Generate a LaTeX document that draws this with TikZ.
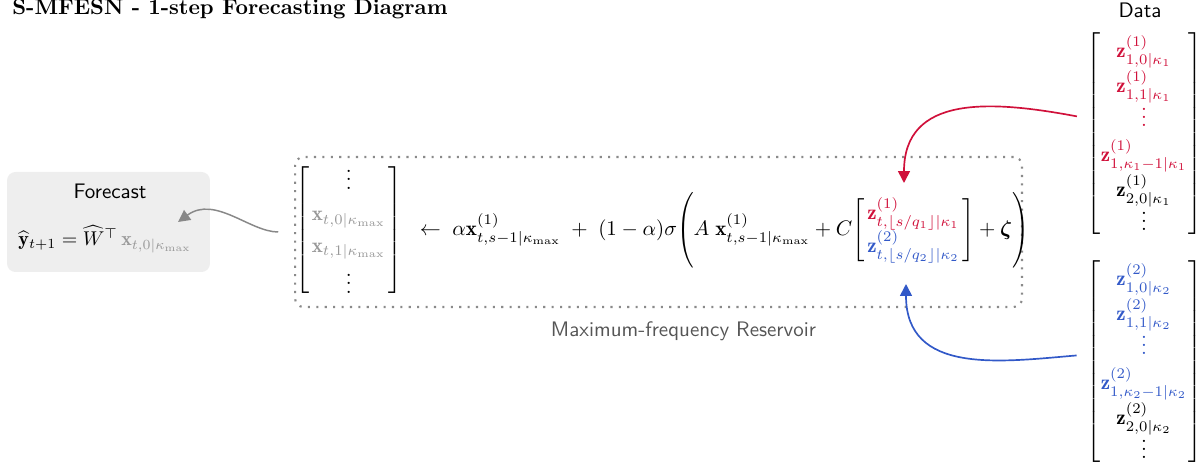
\documentclass[tikz,border=0pt]{standalone}
\usepackage{amsmath,amssymb}
\usepackage{graphicx}
\usepackage{fontspec}
\usetikzlibrary{arrows.meta,matrix}
\definecolor{zred}{HTML}{D0103A}
\definecolor{zblue}{HTML}{3259C8}
\definecolor{resgray}{HTML}{8A8A8A}
\definecolor{fcfill}{HTML}{EEEEEE}
\definecolor{xgray}{HTML}{999999}
\definecolor{lblgray}{HTML}{555555}
\definecolor{arrgray}{HTML}{888888}
\newcommand{\myLpar}{\mathopen{\vcenter{\hbox{\scalebox{1}[1.2]{$\Biggl($}}}}}
\newcommand{\myRpar}{\mathclose{\vcenter{\hbox{\scalebox{1}[1.2]{$\Biggr)$}}}}}
\newcommand{\fixLbr}[1]{\mathopen{\left[\vcenter{\hbox{\rule{0pt}{#1}}}\right.}}
\newcommand{\fixRbr}[1]{\mathclose{\left.\vcenter{\hbox{\rule{0pt}{#1}}}\right]}}
\begin{document}
\begin{tikzpicture}[x=0.476pt,y=-0.476pt,
  fcbox/.style={fill=fcfill, rounded corners=4pt, minimum width=96.6pt, minimum height=47.6pt, inner sep=0pt},
  resbox/.style={draw=resgray, line width=1pt, dash pattern=on 1pt off 3pt, rounded corners=4pt, minimum width=346pt, minimum height=71.4pt, inner sep=0pt},
  lbl/.style={font=\sffamily, inner sep=0pt},
  datamat/.style={matrix of math nodes, anchor=north, inner ysep=1pt, inner xsep=-1.5pt,
     nodes={inner sep=0.5pt}, row sep={16.5pt,between origins},
     left delimiter={[}, right delimiter={]}},
  feed/.style={-{Triangle[width=5.7pt,length=5.7pt]}, line width=0.8pt},
  outarrow/.style={-{Triangle[width=5.7pt,length=5.7pt]}, line width=0.7pt, draw=arrgray}]
\useasboundingbox (0,0) rectangle (1203,463);

% title
\node[anchor=base west, inner sep=0pt, font=\fontsize{10.3}{12}\selectfont\bfseries] (title) at (12,15) {S-MFESN - 1-step Forecasting Diagram};

% forecast box
\node[fcbox] (fc) at (108.5,222) {};
\node[lbl] (fclbl) at (110,191) {Forecast};
\node[inner sep=0pt] (fcf) at (105,239) {\scalebox{0.95}{$\widehat{\mathbf{y}}_{t+1}=\widehat{W}^{\top}\,{\color{xgray}\mathbf{x}_{t,0|\kappa_{\max}}}$}};
\coordinate (fin) at (178,222);

% reservoir box
\node[resbox] (res) at (658.5,232) {};
\node[lbl, text=lblgray] (reslbl) at (683.5,331) {Maximum-frequency Reservoir};

% equation
\node[inner sep=0pt] (eq) at (662,230) {$\displaystyle
\renewcommand{\arraystretch}{1.25}
\fixLbr{64pt}\begin{matrix} \vdots \\ {\color{xgray}\mathbf{x}_{t,0|\kappa_{\max}}} \\ {\color{xgray}\mathbf{x}_{t,1|\kappa_{\max}}} \\ \vdots \end{matrix}\fixRbr{64pt}
\;\;\leftarrow\; \alpha\mathbf{x}^{(1)}_{t,s-1|\kappa_{\max}} \;+\; (1-\alpha)\sigma\myLpar A\;\mathbf{x}^{(1)}_{t,s-1|\kappa_{\max}} + C
\fixLbr{32pt}\begin{matrix} {\color{zred}\mathbf{z}^{(1)}_{t,\lfloor s/q_1\rfloor|\kappa_1}} \\ {\color{zblue}\mathbf{z}^{(2)}_{t,\lfloor s/q_2\rfloor|\kappa_2}} \end{matrix}\fixRbr{32pt}
+\boldsymbol{\zeta}\myRpar$};
\coordinate (zin1) at (904,183);
\coordinate (zin2) at (906,284);

% data
\node[lbl] (datalbl) at (1140,10) {Data};
\matrix (data1) [datamat] at (1144,32) {
\color{zred}\mathbf{z}^{(1)}_{1,0|\kappa_1}\\
\color{zred}\mathbf{z}^{(1)}_{1,1|\kappa_1}\\
\color{zred}\vdots\\
\color{zred}\mathbf{z}^{(1)}_{1,\kappa_1-1|\kappa_1}\\
\mathbf{z}^{(1)}_{2,0|\kappa_1}\\
\vdots\\
};
\matrix (data2) [datamat] at (1144,260) {
\color{zblue}\mathbf{z}^{(2)}_{1,0|\kappa_2}\\
\color{zblue}\mathbf{z}^{(2)}_{1,1|\kappa_2}\\
\color{zblue}\vdots\\
\color{zblue}\mathbf{z}^{(2)}_{1,\kappa_2-1|\kappa_2}\\
\mathbf{z}^{(2)}_{2,0|\kappa_2}\\
\vdots\\
};

% connectors
\draw[feed, draw=zred, shorten <=12.4pt] ([yshift=5.7pt]data1.west) .. controls (990,100) and (904,95) .. (zin1);
\draw[feed, draw=zblue, shorten <=12.4pt] ([yshift=3.8pt]data2.west) .. controls (1000,362) and (906,375) .. (zin2);
\draw[outarrow, shorten <=7.5pt] (res.west) .. controls (250,232) and (215,195) .. (fin);
\end{tikzpicture}
\end{document}
